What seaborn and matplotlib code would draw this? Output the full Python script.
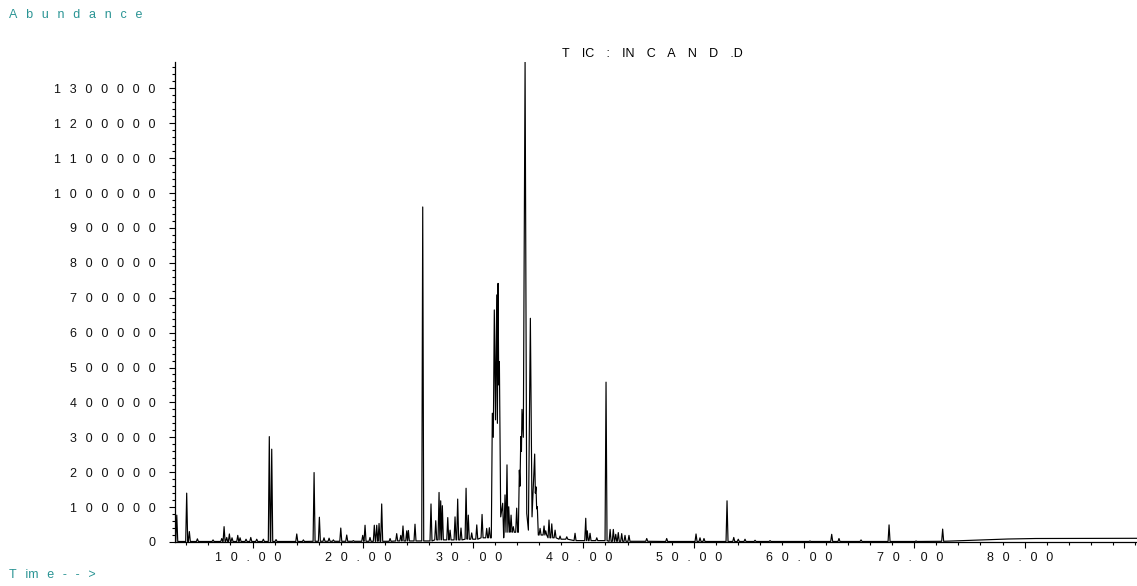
import numpy as np
import pandas as pd
import seaborn as sns
import matplotlib
matplotlib.use("Agg")
import matplotlib.pyplot as plt
from matplotlib.ticker import MultipleLocator

# ---- chromatogram data: retention time (min) and abundance at each peak apex ----
peak_time = [
    3.13, 4.03, 4.27, 5.00, 6.42, 7.21, 7.42, 7.66, 7.90, 8.14, 8.66, 8.87,
    9.41, 9.84, 10.38, 10.98, 11.52, 11.74, 12.13, 14.01, 14.61, 15.58, 16.06,
    16.48, 16.94, 17.33, 18.00, 18.54, 19.14, 19.99, 20.20, 20.65, 21.04, 21.26,
    21.47, 21.71, 22.47, 23.07, 23.44, 23.64, 23.98, 24.13, 24.73,
    25.43, 26.18, 26.61, 26.91, 27.06, 27.21, 27.70, 27.91, 28.36, 28.60, 28.90,
    29.36, 29.56, 29.87, 30.33, 30.81, 31.23, 31.47, 31.74, 31.92, 32.14, 32.26,
    32.38, 32.68, 32.89, 33.07, 33.23, 33.44, 33.64, 33.95, 34.19, 34.32, 34.43,
    34.71, 35.19, 35.58, 35.70, 35.82, 36.07, 36.43, 36.58, 36.88, 37.13, 37.43,
    37.88, 38.49, 39.24, 40.21, 40.35, 40.60, 41.21, 42.05, 42.42, 42.71, 42.93,
    43.16, 43.47, 43.77, 44.13, 45.74, 47.55, 50.21, 50.57, 50.93, 53.02, 53.63,
    54.04, 54.65, 55.56, 56.92, 60.54, 62.51, 63.17, 65.17, 67.71, 70.16, 72.57,
]
peak_height = [
    77000, 140000, 30000, 9000, 6000, 10000, 44000, 13000, 23000, 12000, 19000, 12000,
    8000, 13000, 8000, 8000, 302000, 266000, 7000, 23000, 6000, 199000, 71000,
    12000, 11000, 6000, 40000, 20000, 4000, 19000, 48000, 13000, 48000, 48000,
    53000, 109000, 10000, 24000, 19000, 46000, 32000, 33000, 51000,
    960000, 109000, 61000, 142000, 118000, 104000, 70000, 34000, 72000, 123000, 40000,
    154000, 77000, 26000, 49000, 79000, 39000, 41000, 369000, 665000, 708000, 741000,
    517000, 111000, 135000, 221000, 101000, 77000, 44000, 97000, 206000, 302000, 380000,
    1375000, 641000, 252000, 158000, 101000, 39000, 46000, 32000, 63000, 52000, 34000,
    17000, 15000, 25000, 68000, 32000, 25000, 12000, 458000, 36000, 36000, 22000,
    27000, 24000, 19000, 19000, 10000, 10000, 23000, 12000, 10000, 118000, 13000,
    8000, 8000, 5000, 4000, 3000, 22000, 10000, 6000, 49000, 3000, 37000,
]

# minima between co-eluting peaks
valley_time = [31.83, 32.03, 32.20, 32.32, 32.50, 34.25, 34.38, 34.55, 34.86, 35.01,
               35.34, 35.64, 35.76]
valley_level = [300000, 350000, 340000, 450000, 72000, 160000, 260000, 300000, 82000, 34000,
                72000, 140000, 95000]

# slowly varying background (column bleed rises at the end of the run)
bg_time = [2.97, 10.0, 20.0, 25.0, 28.1, 30.0, 31.6, 33.8, 36.2, 37.0, 38.0, 40.0,
           44.8, 50.0, 60.0, 70.0, 72.0, 74.0, 76.0, 78.5, 81.0, 85.0, 90.19]
bg_level = [1500, 1500, 2000, 3000, 6000, 8000, 12000, 28000, 20000, 12000, 8000, 4000,
            2000, 1500, 1500, 1500, 2000, 3500, 5700, 8600, 10000, 10300, 10600]

x_major = [10, 20, 30, 40, 50, 60, 70, 80]
x_labels = ["10.00", "20.00", "30.00", "40.00", "50.00", "60.00", "70.00", "80.00"]
y_major = list(range(0, 1300001, 100000))
y_labels = [str(v) for v in y_major]

TEAL = "#2a9494"
GAP = "\u2002\u2009"
WIDE_GAP = "\u2002\u2009 "
HW = 0.09  # half width of a peak, minutes


def spaced(s, trail=True):
    return GAP.join(s) + (GAP if trail else "")


def base_at(t):
    i = int(np.argmin(np.abs(np.asarray(bg_time) - t)))
    return bg_level[i]


# ---- build the trace vertices ----
order = np.argsort(peak_time)
pt = np.asarray(peak_time)[order]
ph = np.asarray(peak_height)[order]
vt = np.asarray(valley_time)
vl = np.asarray(valley_level)

pts = list(zip(pt, ph))
for t, b in zip(bg_time, bg_level):
    if np.min(np.abs(pt - t)) > 2 * HW and np.min(np.abs(vt - t)) > 2 * HW:
        pts.append((t, b))
pts.append((pt[0] - HW, base_at(pt[0])))
pts.append((pt[-1] + HW, base_at(pt[-1])))
for a, b in zip(pt[:-1], pt[1:]):
    inside = (vt > a) & (vt < b)
    if inside.any():
        pts.extend(zip(vt[inside], vl[inside]))
    elif b - a > 2 * HW:
        pts.append((a + HW, base_at(a)))
        pts.append((b - HW, base_at(b)))
    else:
        m = 0.5 * (a + b)
        pts.append((m, base_at(m)))

pts.sort(key=lambda p: p[0])
df = pd.DataFrame(pts, columns=["time", "abundance"])

# ---- figure ----
sns.set_theme(style="white")
plt.rcParams["font.family"] = ["Liberation Sans", "DejaVu Sans"]

W, H = 1137, 586
fig = plt.figure(figsize=(W / 100, H / 100), dpi=100)
ax = fig.add_axes([175 / W, 44 / H, (W - 175) / W, 480 / H])

sns.lineplot(data=df, x="time", y="abundance", estimator=None, sort=False,
             color="black", linewidth=0.85, ax=ax)

ax.set_xlim(2.97, 90.19)
ax.set_ylim(0, 1375400)

for side in ("top", "right"):
    ax.spines[side].set_visible(False)
for side in ("left", "bottom"):
    ax.spines[side].set_color("black")
    ax.spines[side].set_linewidth(0.9)

ax.set_xticks(x_major, labels=[spaced(s) for s in x_labels])
ax.xaxis.set_minor_locator(MultipleLocator(2))
ax.set_yticks(y_major, labels=[spaced(s) for s in y_labels])
ax.yaxis.set_minor_locator(MultipleLocator(20000))

ax.tick_params(axis="both", which="both", direction="out", color="black",
               bottom=True, left=True, width=0.8)
ax.tick_params(axis="x", which="major", length=4.6, pad=2.6, labelsize=9,
               labelcolor="#111111")
ax.tick_params(axis="x", which="minor", length=2.4)
ax.tick_params(axis="y", which="major", length=4.2, pad=3.5, labelsize=9,
               labelcolor="#111111")
ax.tick_params(axis="y", which="minor", length=2.2)
ax.set_xlabel("")
ax.set_ylabel("")
ax.grid(False)

fig.text(9 / W, 1 - 14.5 / H, spaced("Abundance", trail=False), color=TEAL,
         fontsize=9, ha="left", va="center")
fig.text(9 / W, 1 - 575 / H, "T" + GAP + "im" + GAP + "e" + GAP + "-" + GAP + "-" + GAP + ">",
         color=TEAL, fontsize=9, ha="left", va="center")
fig.text(562 / W, 1 - 54 / H,
         WIDE_GAP.join(["T", "IC", ":", "IN", "C", "A", "N", "D", ".D"]),
         color="black", fontsize=9, ha="left", va="center")

fig.savefig("out.png", dpi=100, facecolor="white")
